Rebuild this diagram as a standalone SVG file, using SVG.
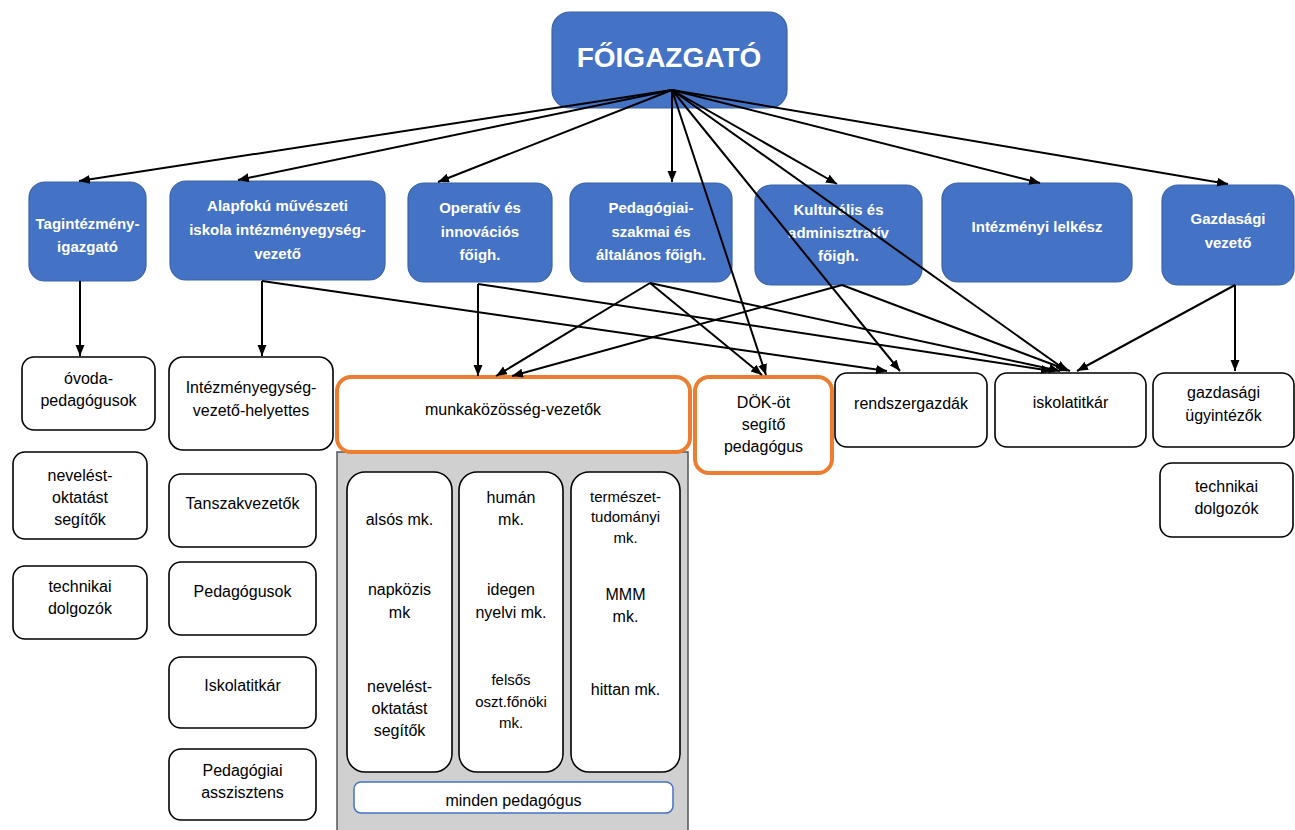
<svg xmlns="http://www.w3.org/2000/svg" width="1295" height="830" viewBox="0 0 1295 830">
<defs>
<marker id="ah" markerUnits="userSpaceOnUse" markerWidth="12" markerHeight="10" refX="11" refY="4.5" orient="auto">
<path d="M0,0 L11,4.5 L0,9 z" fill="#000"/>
</marker>
<style>
.blue{fill:#4472C4;stroke:#3A62A8;stroke-width:1.2}
.bt{font-family:"Liberation Sans",Arial,sans-serif;font-weight:bold;font-size:15px;fill:#fff;text-anchor:middle}
.wb{fill:#fff;stroke:#000;stroke-width:1.6}
.ob{fill:#fff;stroke:#ED7D31;stroke-width:4}
.t{font-family:"Liberation Sans",Arial,sans-serif;font-size:16px;fill:#000;text-anchor:middle}
.ts{font-family:"Liberation Sans",Arial,sans-serif;font-size:15px;fill:#000;text-anchor:middle}
.c line{stroke:#000;stroke-width:2;marker-end:url(#ah)}
</style>
</defs>
<rect width="1295" height="830" fill="#fff"/>

<g id="foigazgato">
<rect class="blue" x="552" y="12" width="235" height="96" rx="18"/>
<text x="669" y="67" style="font-family:'Liberation Sans',Arial,sans-serif;font-weight:bold;font-size:28px;fill:#fff;text-anchor:middle">FŐIGAZGATÓ</text>
</g>

<g id="tagintezmeny">
<rect class="blue" x="29" y="182" width="117" height="99" rx="16"/>
<text class="bt" x="87.5" y="229">Tagintézmény-</text>
<text class="bt" x="87.5" y="252">igazgató</text>
</g>
<g id="alapfoku">
<rect class="blue" x="170" y="181" width="215" height="99" rx="16"/>
<text class="bt" x="277.5" y="211">Alapfokú művészeti</text>
<text class="bt" x="277.5" y="235">iskola intézményegység-</text>
<text class="bt" x="277.5" y="259">vezető</text>
</g>
<g id="operativ">
<rect class="blue" x="408" y="183" width="144" height="99" rx="16"/>
<text class="bt" x="480" y="213">Operatív és</text>
<text class="bt" x="480" y="237">innovációs</text>
<text class="bt" x="480" y="260">főigh.</text>
</g>
<g id="pedagogiai">
<rect class="blue" x="570" y="183" width="162" height="99" rx="16"/>
<text class="bt" x="651" y="213">Pedagógiai-</text>
<text class="bt" x="651" y="237">szakmai és</text>
<text class="bt" x="651" y="260">általános főigh.</text>
</g>
<g id="kulturalis">
<rect class="blue" x="755" y="185" width="167" height="100" rx="16"/>
<text class="bt" x="838.5" y="215">Kulturális és</text>
<text class="bt" x="838.5" y="238">adminisztratív</text>
<text class="bt" x="838.5" y="261">főigh.</text>
</g>
<g id="lelkesz">
<rect class="blue" x="942" y="183" width="190" height="99" rx="16"/>
<text class="bt" x="1037" y="232">Intézményi lelkész</text>
</g>
<g id="gazdasagi">
<rect class="blue" x="1162" y="185" width="132" height="100" rx="16"/>
<text class="bt" x="1228" y="224">Gazdasági</text>
<text class="bt" x="1228" y="248">vezető</text>
</g>

<g id="ovoda">
<rect class="wb" x="22" y="357" width="133" height="73" rx="12"/>
<text class="t" x="88.5" y="384">óvoda-</text>
<text class="t" x="88.5" y="406">pedagógusok</text>
</g>
<g id="neveles-oktatas-left">
<rect class="wb" x="13" y="452" width="134" height="87" rx="12"/>
<text class="t" x="80" y="481">nevelést-</text>
<text class="t" x="80" y="503">oktatást</text>
<text class="t" x="80" y="525">segítők</text>
</g>
<g id="technikai-left">
<rect class="wb" x="13" y="566" width="134" height="73" rx="12"/>
<text class="t" x="80" y="592">technikai</text>
<text class="t" x="80" y="614">dolgozók</text>
</g>

<g id="ieh">
<rect class="wb" x="169" y="357" width="164" height="93" rx="14"/>
<text class="t" x="251" y="393">Intézményegység-</text>
<text class="t" x="251" y="416">vezető-helyettes</text>
</g>
<g id="tanszak">
<rect class="wb" x="169" y="474" width="147" height="73" rx="12"/>
<text class="t" x="242.5" y="509">Tanszakvezetők</text>
</g>
<g id="pedagogusok">
<rect class="wb" x="169" y="562" width="147" height="73" rx="12"/>
<text class="t" x="242.5" y="597">Pedagógusok</text>
</g>
<g id="iskolatitkar-left">
<rect class="wb" x="169" y="657" width="147" height="71" rx="12"/>
<text class="t" x="242.5" y="691">Iskolatitkár</text>
</g>
<g id="asszisztens">
<rect class="wb" x="169" y="749" width="147" height="71" rx="12"/>
<text class="t" x="242.5" y="776">Pedagógiai</text>
<text class="t" x="242.5" y="798">asszisztens</text>
</g>

<g id="mk-container">
<rect x="337" y="452" width="351" height="390" fill="#D0D0D0" stroke="#555" stroke-width="1.5"/>
</g>
<g id="mkv">
<rect class="ob" x="337" y="377" width="353" height="75" rx="14"/>
<text class="t" x="513" y="415">munkaközösség-vezetők</text>
</g>
<g id="dok">
<rect class="ob" x="695" y="377" width="137" height="96" rx="14"/>
<text class="t" x="763.5" y="408">DÖK-öt</text>
<text class="t" x="763.5" y="430">segítő</text>
<text class="t" x="763.5" y="452">pedagógus</text>
</g>

<g id="col1">
<rect class="wb" x="347" y="472" width="105" height="300" rx="18"/>
<text class="t" x="399.5" y="525">alsós mk.</text>
<text class="t" x="399.5" y="595">napközis</text>
<text class="t" x="399.5" y="618">mk</text>
<text class="t" x="399.5" y="692">nevelést-</text>
<text class="t" x="399.5" y="714">oktatást</text>
<text class="t" x="399.5" y="736">segítők</text>
</g>
<g id="col2">
<rect class="wb" x="459" y="472" width="104" height="300" rx="18"/>
<text class="t" x="511" y="503">humán</text>
<text class="t" x="511" y="525">mk.</text>
<text class="t" x="511" y="595">idegen</text>
<text class="t" x="511" y="618">nyelvi mk.</text>
<text class="ts" x="511" y="685">felsős</text>
<text class="ts" x="511" y="707">oszt.főnöki</text>
<text class="ts" x="511" y="728">mk.</text>
</g>
<g id="col3">
<rect class="wb" x="571" y="472" width="109" height="300" rx="18"/>
<text class="ts" x="625.5" y="502">természet-</text>
<text class="ts" x="625.5" y="522">tudományi</text>
<text class="ts" x="625.5" y="543">mk.</text>
<text class="t" x="625.5" y="600">MMM</text>
<text class="t" x="625.5" y="622">mk.</text>
<text class="t" x="625.5" y="695">hittan mk.</text>
</g>
<g id="minden">
<rect x="354" y="782" width="319" height="31" rx="7" fill="#fff" stroke="#4472C4" stroke-width="1.5"/>
<text class="t" x="513.5" y="806">minden pedagógus</text>
</g>

<g id="rendszergazdak">
<rect class="wb" x="835" y="373" width="152" height="74" rx="12"/>
<text class="t" x="911" y="409">rendszergazdák</text>
</g>
<g id="iskolatitkar">
<rect class="wb" x="995" y="373" width="151" height="74" rx="12"/>
<text class="t" x="1070.5" y="408">iskolatitkár</text>
</g>
<g id="gazd-ugyintezok">
<rect class="wb" x="1153" y="373" width="141" height="74" rx="12"/>
<text class="t" x="1223.5" y="398">gazdasági</text>
<text class="t" x="1223.5" y="421">ügyintézők</text>
</g>
<g id="technikai-right">
<rect class="wb" x="1160" y="463" width="133" height="74" rx="12"/>
<text class="t" x="1226.5" y="492">technikai</text>
<text class="t" x="1226.5" y="514">dolgozók</text>
</g>

<g id="connectors" class="c">
<line x1="672" y1="90" x2="79" y2="181"/>
<line x1="672" y1="90" x2="238" y2="180"/>
<line x1="672" y1="90" x2="438" y2="182"/>
<line x1="672" y1="90" x2="672" y2="182"/>
<line x1="672" y1="90" x2="837" y2="184"/>
<line x1="672" y1="90" x2="1040" y2="183"/>
<line x1="672" y1="90" x2="1228" y2="184"/>
<line x1="672" y1="90" x2="766" y2="375"/>
<line x1="672" y1="90" x2="900" y2="371"/>
<line x1="672" y1="90" x2="1067" y2="371"/>
<line x1="80" y1="281" x2="80" y2="356"/>
<line x1="262" y1="281" x2="262" y2="356"/>
<line x1="262" y1="281" x2="887" y2="371"/>
<line x1="478" y1="284" x2="478" y2="376"/>
<line x1="478" y1="284" x2="1052" y2="371"/>
<line x1="650" y1="283" x2="496" y2="376"/>
<line x1="650" y1="283" x2="762" y2="375"/>
<line x1="650" y1="283" x2="1060" y2="371"/>
<line x1="842" y1="285" x2="512" y2="376"/>
<line x1="842" y1="285" x2="1070" y2="371"/>
<line x1="1235" y1="285" x2="1235" y2="371"/>
<line x1="1235" y1="285" x2="1077" y2="371"/>
</g>
</svg>
